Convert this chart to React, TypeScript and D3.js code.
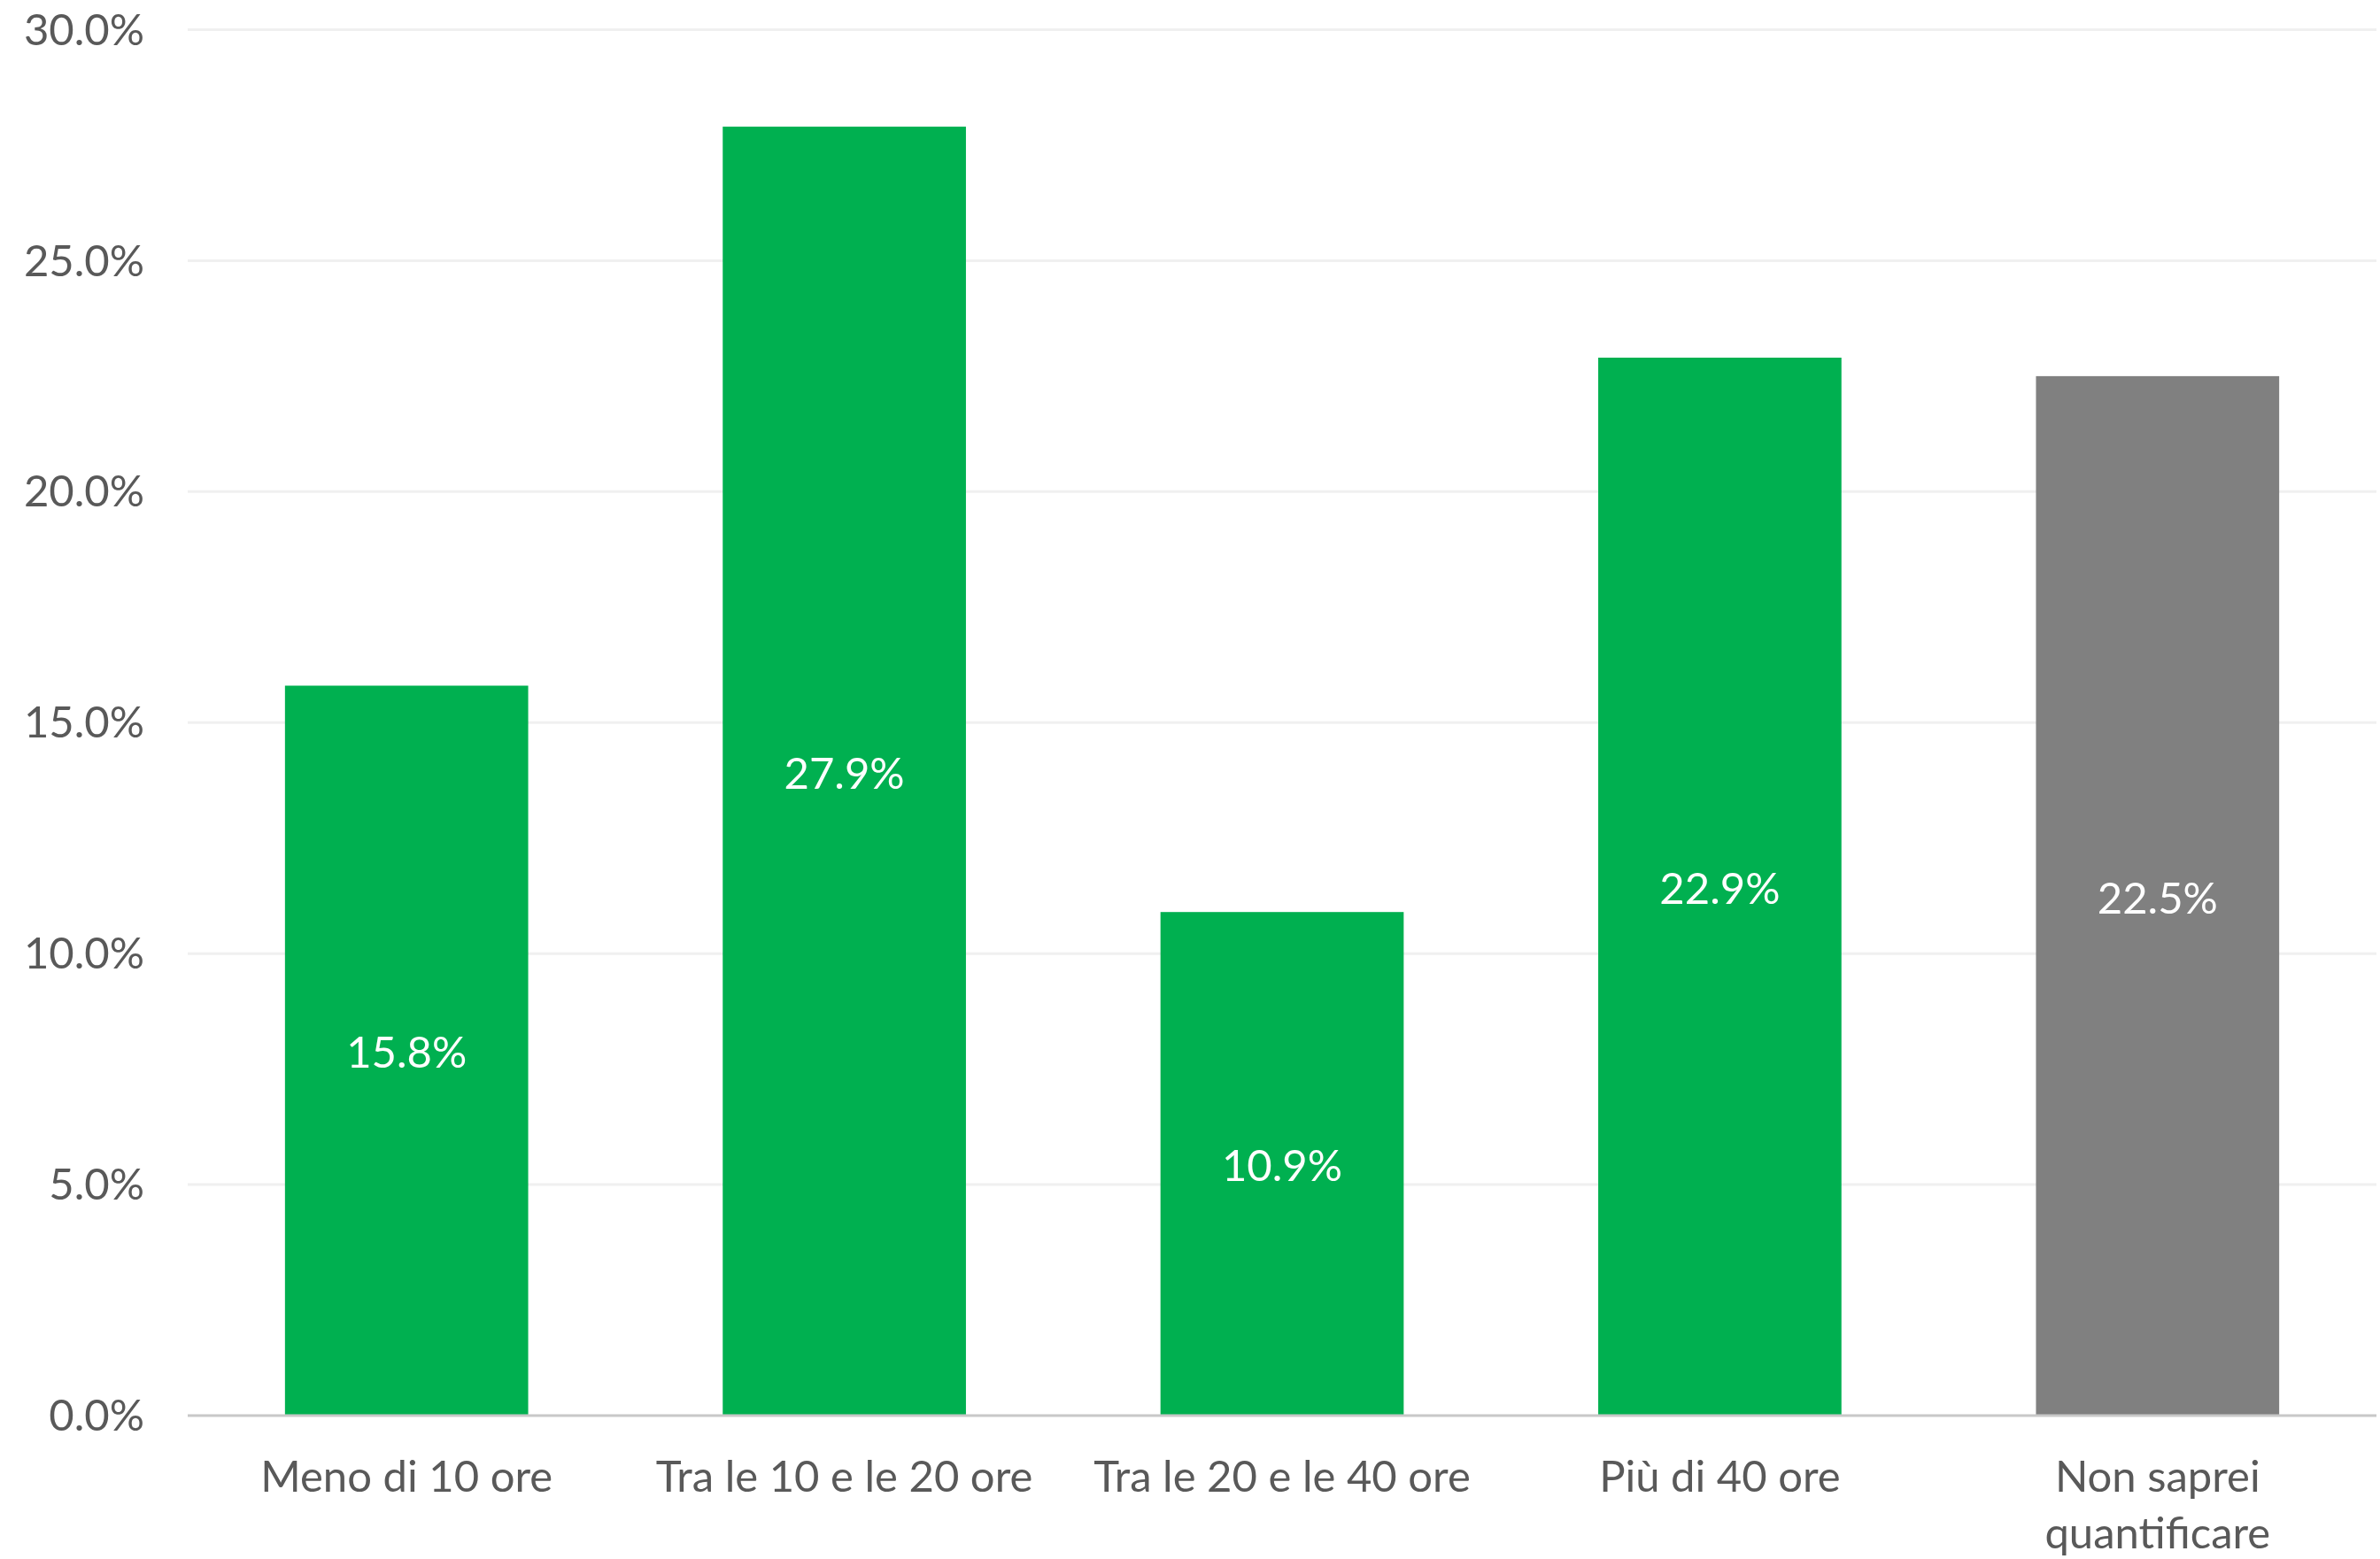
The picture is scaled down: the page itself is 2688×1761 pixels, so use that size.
import React from "react";
import * as d3 from "d3";

const categories: string[][] = [
  ["Meno di 10 ore"],
  ["Tra le 10 e le 20 ore"],
  ["Tra le 20 e le 40 ore"],
  ["Più di 40 ore"],
  ["Non saprei", "quantificare"],
];
const values: number[] = [15.8, 27.9, 10.9, 22.9, 22.5];
const barColors: string[] = ["#00B050", "#00B050", "#00B050", "#00B050", "#808080"];
const yTicks: number[] = [0, 5, 10, 15, 20, 25, 30];

const W = 2688;
const H = 1761;
const FONT = "Lato, 'Open Sans', sans-serif";
const FS = 49;

export default function App() {
  const x = d3
    .scaleBand<number>()
    .domain(d3.range(categories.length))
    .range([212, 2684])
    .paddingInner(0.4444)
    .paddingOuter(0.2222);
  const y = d3.scaleLinear().domain([0, 30]).range([1599, 33.5]);
  const fmt = (v: number) => d3.format(".1f")(v) + "%";

  return (
    <svg
      width={W}
      height={H}
      style={{ position: "absolute", left: 0, top: 0, background: "#fff" }}
      fontFamily={FONT}
    >
      {yTicks.filter((t) => t > 0).map((t) => (
        <line key={"g" + t} x1={212} x2={2684} y1={y(t)} y2={y(t)} stroke="#F0F0F0" strokeWidth={3} />
      ))}
      {yTicks.map((t) => (
        <text key={"t" + t} x={163} y={y(t)} dy="0.35em" textAnchor="end" fontSize={FS} fill="#595959">
          {fmt(t)}
        </text>
      ))}
      {values.map((v, i) => (
        <rect
          key={"b" + i}
          x={x(i)!}
          y={y(v)}
          width={x.bandwidth()}
          height={y(0) - y(v)}
          fill={barColors[i]}
        />
      ))}
      <line x1={212} x2={2684} y1={y(0)} y2={y(0)} stroke="#C8C8C8" strokeWidth={3} />
      {values.map((v, i) => (
        <text
          key={"d" + i}
          x={x(i)! + x.bandwidth() / 2}
          y={(y(v) + y(0)) / 2}
          dy="0.4em"
          textAnchor="middle"
          fontSize={FS}
          fill="#FFFFFF"
        >
          {fmt(v)}
        </text>
      ))}
      {categories.map((lines, i) => (
        <text
          key={"c" + i}
          x={x(i)! + x.bandwidth() / 2}
          y={1685}
          textAnchor="middle"
          fontSize={FS}
          fill="#595959"
        >
          {lines.map((l, j) => (
            <tspan key={j} x={x(i)! + x.bandwidth() / 2} dy={j === 0 ? 0 : 64}>
              {l}
            </tspan>
          ))}
        </text>
      ))}
    </svg>
  );
}
